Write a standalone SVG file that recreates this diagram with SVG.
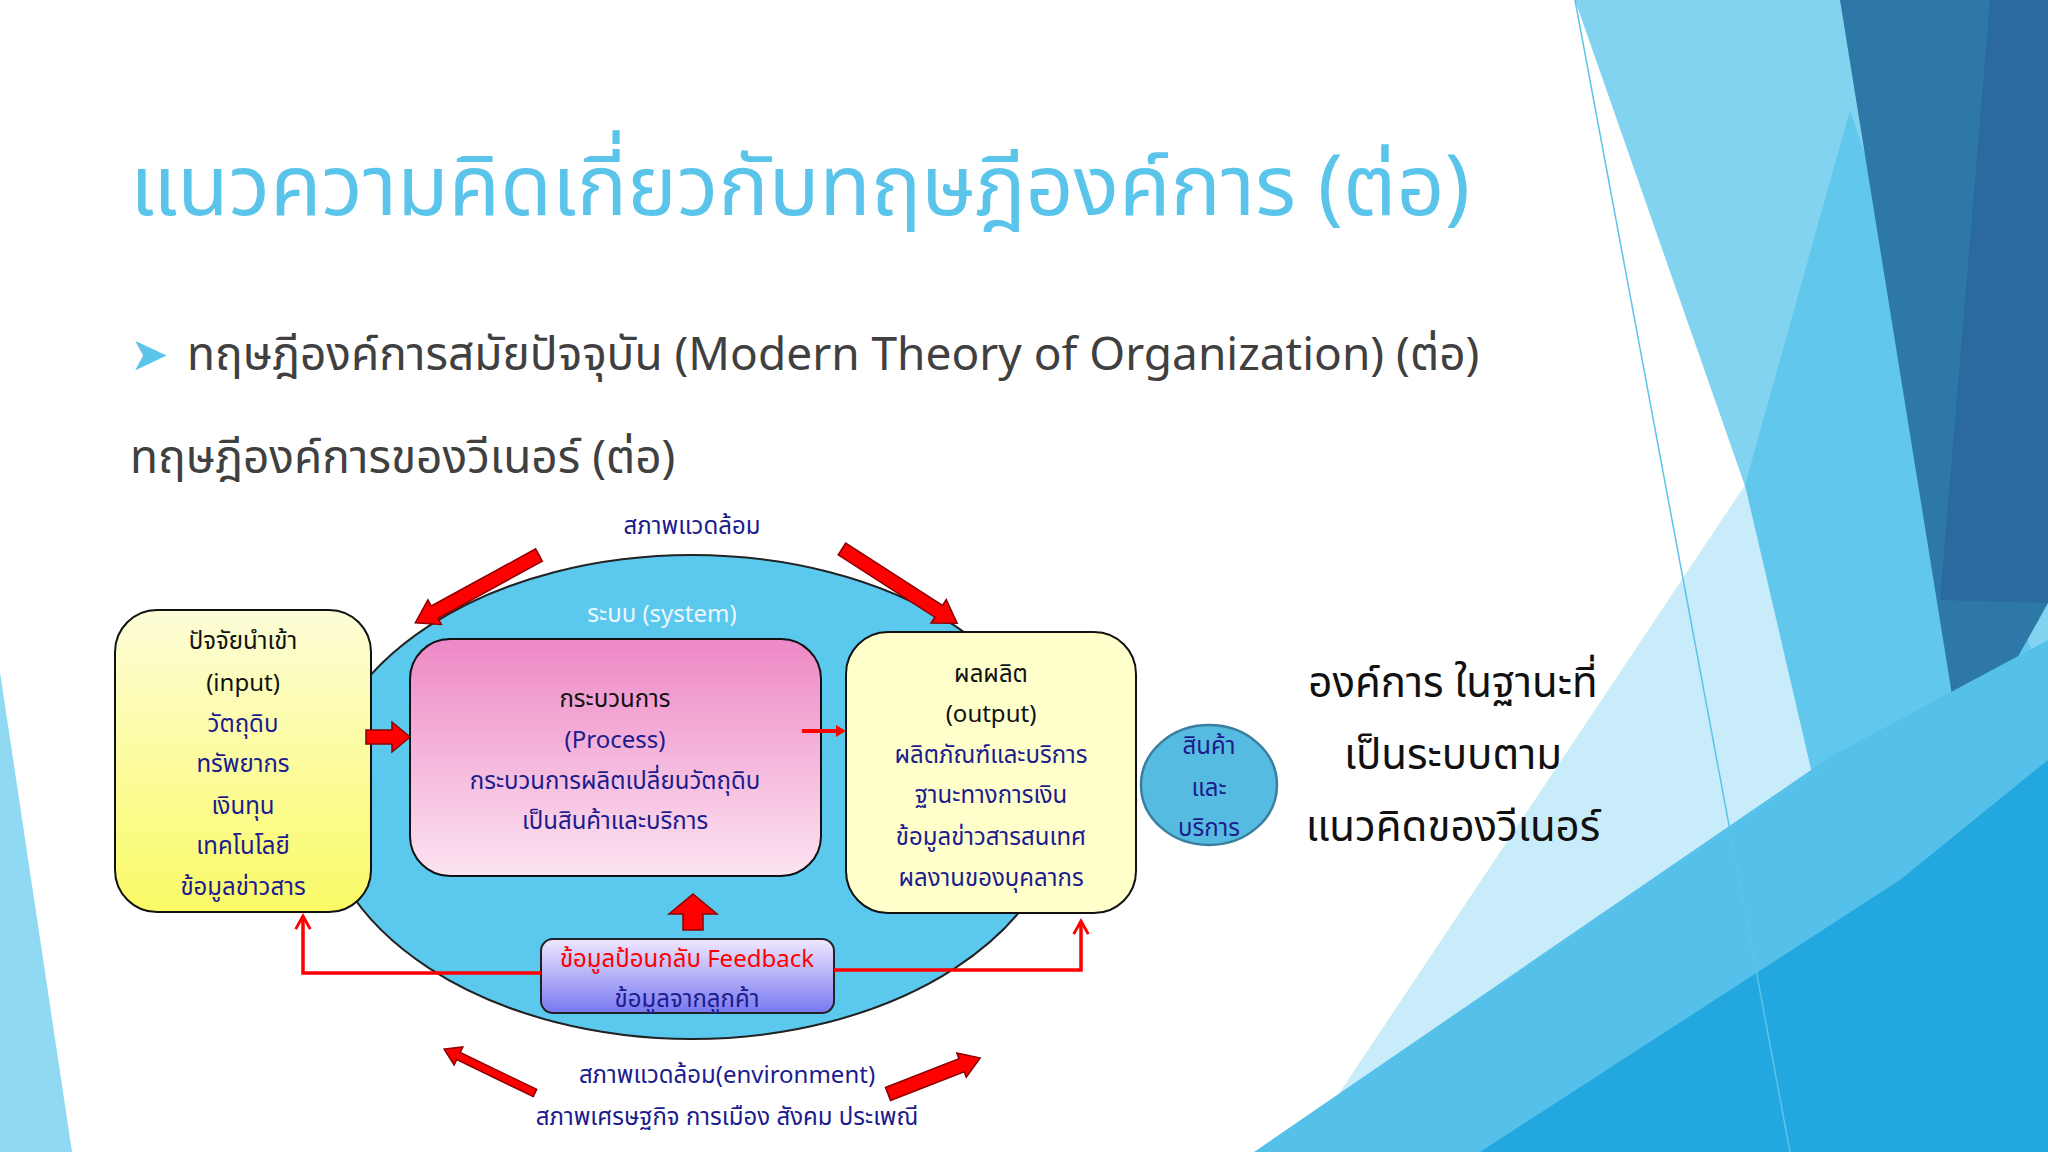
<svg xmlns="http://www.w3.org/2000/svg" width="2048" height="1152" viewBox="0 0 2048 1152">
<defs>
<style>
.t{font-family:"Noto Sans Thai","Noto Sans","Liberation Sans",sans-serif}
.d{font-size:24px;text-anchor:middle;fill:#1c1c8c}
.k{fill:#111}
.ra{fill:#ff0000;stroke:#8b0000;stroke-width:1.5}
.fb{fill:none;stroke:#ff0000;stroke-width:3.5}
</style>
<linearGradient id="gy" x1="0" y1="0" x2="0" y2="1"><stop offset="0" stop-color="#fdfdd8"/><stop offset="1" stop-color="#fafa66"/></linearGradient>
<linearGradient id="gp" x1="0" y1="0" x2="0" y2="1"><stop offset="0" stop-color="#ee88c6"/><stop offset="1" stop-color="#fce4f1"/></linearGradient>
<linearGradient id="gf" x1="0" y1="0" x2="0" y2="1"><stop offset="0" stop-color="#f0e8ff"/><stop offset="1" stop-color="#7878f0"/></linearGradient>
<marker id="ah" viewBox="0 0 12 12" refX="10" refY="6" markerWidth="5" markerHeight="5" orient="auto"><path d="M1,1 L10,6 L1,11" fill="none" stroke="#ff0000" stroke-width="2"/></marker>
</defs>
<rect width="2048" height="1152" fill="#ffffff"/>
<g id="background">
<polygon points="0,672 72,1152 0,1152" fill="#8fd9f3"/>
<polygon points="1575,0 2048,0 2048,1152 1978,1152" fill="#81d3f0"/>
<polygon points="1300,1152 1745,485 1978,1152" fill="#c8ecf9"/>
<polygon points="1745,485 1850,110 2048,700 2048,1152 1900,1152" fill="#62c7ec"/>
<polygon points="1840,0 2048,0 2048,603 1962,757" fill="#2e78a8"/>
<polygon points="1990,0 2048,0 2048,603 1940,600" fill="#2a6aa0"/>
<polygon points="1254,1152 1830,757 2048,640 2048,1152" fill="#55c0ea"/>
<polygon points="1480,1152 1900,880 2048,760 2048,1152" fill="#22a7de"/>
<line x1="1575" y1="0" x2="1790" y2="1152" stroke="#5cc3ea" stroke-width="1.5"/>
<line x1="1500" y1="985" x2="1839" y2="754" stroke="#5cc3ea" stroke-width="1.5"/>
</g>
<g id="title">
<text class="t" x="130" y="215" font-size="84" fill="#5bc4ea">แนวความคิดเกี่ยวกับทฤษฎีองค์การ (ต่อ)</text>
<text class="t" x="130" y="370" font-size="46" fill="#5bc4ea">➤</text>
<text class="t" x="187" y="370" font-size="46" fill="#404040">ทฤษฎีองค์การสมัยปัจจุบัน (Modern Theory of Organization) (ต่อ)</text>
<text class="t" x="130" y="473" font-size="46" fill="#404040">ทฤษฎีองค์การของวีเนอร์ (ต่อ)</text>
</g>
<g id="system">
<ellipse cx="692" cy="797" rx="372" ry="242" fill="#5bc8ee" stroke="#222" stroke-width="2"/>
<text class="t d" x="662" y="622" fill="#eef6ff" style="fill:#eef6ff">ระบบ (system)</text>
</g>
<g id="env-top"><text class="t d" x="692" y="534">สภาพแวดล้อม</text></g>
<g id="input">
<rect x="115" y="610" width="256" height="302" rx="42" fill="url(#gy)" stroke="#111" stroke-width="2"/>
<text class="t d k" x="243" y="649" style="fill:#111">ปัจจัยนำเข้า</text>
<text class="t d" x="243" y="691" style="fill:#111">(input)</text>
<text class="t d" x="243" y="732">วัตถุดิบ</text>
<text class="t d" x="243" y="772">ทรัพยากร</text>
<text class="t d" x="243" y="814">เงินทุน</text>
<text class="t d" x="243" y="854">เทคโนโลยี</text>
<text class="t d" x="243" y="895">ข้อมูลข่าวสาร</text>
</g>
<g id="process">
<rect x="410" y="639" width="411" height="237" rx="40" fill="url(#gp)" stroke="#111" stroke-width="2"/>
<text class="t d" x="615" y="707" style="fill:#111">กระบวนการ</text>
<text class="t d" x="615" y="748">(Process)</text>
<text class="t d" x="615" y="789">กระบวนการผลิตเปลี่ยนวัตถุดิบ</text>
<text class="t d" x="615" y="829">เป็นสินค้าและบริการ</text>
</g>
<g id="output">
<rect x="846" y="632" width="290" height="281" rx="42" fill="#ffffcc" stroke="#111" stroke-width="2"/>
<text class="t d" x="991" y="682" style="fill:#111">ผลผลิต</text>
<text class="t d" x="991" y="722" style="fill:#111">(output)</text>
<text class="t d" x="991" y="763">ผลิตภัณฑ์และบริการ</text>
<text class="t d" x="991" y="803">ฐานะทางการเงิน</text>
<text class="t d" x="991" y="845">ข้อมูลข่าวสารสนเทศ</text>
<text class="t d" x="991" y="886">ผลงานของบุคลากร</text>
</g>
<g id="goods">
<ellipse cx="1209" cy="785" rx="68" ry="60" fill="#56bbe0" stroke="#3a7fa0" stroke-width="2.5"/>
<text class="t d" x="1209" y="754">สินค้า</text>
<text class="t d" x="1209" y="796">และ</text>
<text class="t d" x="1209" y="836">บริการ</text>
</g>
<g id="feedback">
<rect x="541" y="939" width="293" height="74" rx="12" fill="url(#gf)" stroke="#222" stroke-width="2"/>
<text class="t d" x="687" y="967" style="fill:#ff0000">ข้อมูลป้อนกลับ Feedback</text>
<text class="t d" x="687" y="1007">ข้อมูลจากลูกค้า</text>
</g>
<g id="connectors">
<polyline class="fb" points="541,973 303,973 303,916" marker-end="url(#ah)"/>
<polyline class="fb" points="834,970 1081,970 1081,921" marker-end="url(#ah)"/>
<polygon class="ra" points="683,930 703,930 703,914 717,914 693,894 669,914 683,914"/>
<polygon class="ra" points="366,730 392,730 392,722 410,737 392,752 392,744 366,744"/>
<line x1="802" y1="731" x2="838" y2="731" stroke="#ff0000" stroke-width="4"/>
<polygon points="836,725 846,731 836,737" fill="#ff0000"/>
<g class="ra">
<polygon transform="translate(539,555) rotate(151.3)" points="0,-7 119,-7 119,-14 141,0 119,14 119,7 0,7"/>
<polygon transform="translate(842,549) rotate(32.8)" points="0,-7 115,-7 115,-14 137,0 115,14 115,7 0,7"/>
<polygon transform="translate(535,1093) rotate(205.8)" points="0,-4 85,-4 85,-10 101,0 85,10 85,4 0,4"/>
<polygon transform="translate(888,1094) rotate(-21.4)" points="0,-7 79,-7 79,-13 99,0 79,13 79,7 0,7"/>
</g>
</g>
<g id="env-bottom">
<text class="t d" x="727" y="1083">สภาพแวดล้อม(environment)</text>
<text class="t d" x="727" y="1125">สภาพเศรษฐกิจ การเมือง สังคม ประเพณี</text>
</g>
<g id="caption">
<text class="t" x="1453" y="697" font-size="42" text-anchor="middle" fill="#111">องค์การ ในฐานะที่</text>
<text class="t" x="1453" y="769" font-size="42" text-anchor="middle" fill="#111">เป็นระบบตาม</text>
<text class="t" x="1453" y="841" font-size="42" text-anchor="middle" fill="#111">แนวคิดของวีเนอร์</text>
</g>
</svg>
